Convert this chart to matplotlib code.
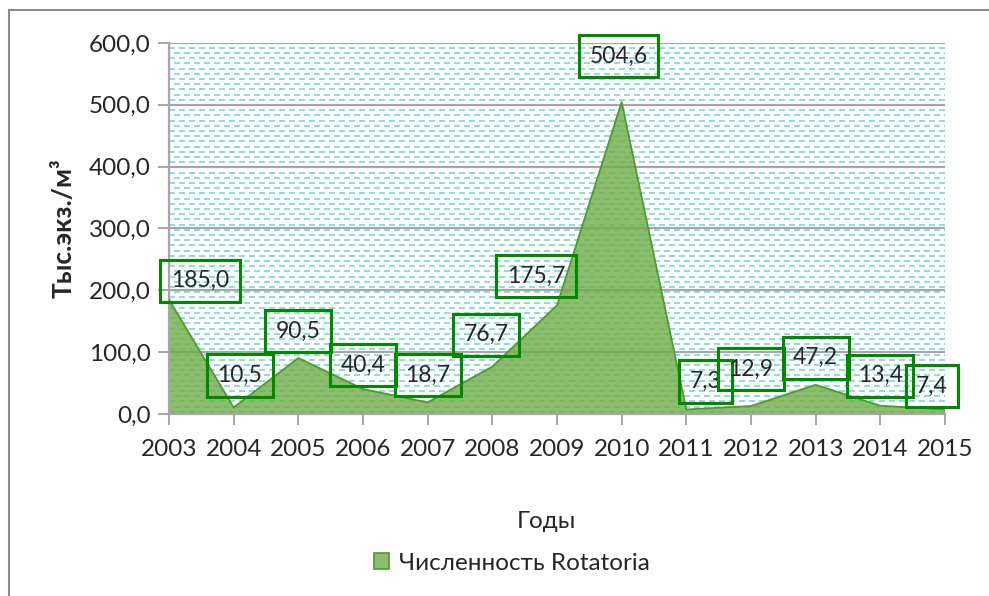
import numpy as np
import matplotlib
matplotlib.use("Agg")
import matplotlib.pyplot as plt
from matplotlib.patches import Rectangle, Patch
from matplotlib.ticker import FuncFormatter

plt.rcParams['font.family'] = ['Lato', 'Open Sans', 'DejaVu Sans']
plt.rcParams['lines.scale_dashes'] = False

years = [2003, 2004, 2005, 2006, 2007, 2008, 2009, 2010, 2011, 2012, 2013, 2014, 2015]
rotatoria = [185.0, 10.5, 90.5, 40.4, 18.7, 76.7, 175.7, 504.6, 7.3, 12.9, 47.2, 13.4, 7.4]

# pixel offsets of the value boxes from their points
label_dx = [31, 6, 0, 0, 0, -6, -21, -3, 19, 0, 0, 0, -13]
label_dy = [19, 32, 27, 24, 27, 32, 29, 46, 28, 37, 27, 30, 23]

text_col = '#262626'
grid_col = '#a6a6a6'

fig = plt.figure(figsize=(9.89, 5.96), dpi=100)
ax = fig.add_axes([169 / 989, 182 / 596, 776 / 989, 371 / 596])

# chart border
fig.patches.append(Rectangle((9 / 989, -0.05), 1.0, 1.05 - 10 / 596,
                             transform=fig.transFigure, fill=False,
                             edgecolor='#8c8c8c', lw=1.5))

# dashed background pattern of the plot area
rows = np.arange(0.006, 1.0, 5.2 / 371)
for i, yr in enumerate(rows):
    off = 0 if i % 2 == 0 else 5
    ax.plot([0, 1], [yr, yr], transform=ax.transAxes, color='#6fd3d3',
            lw=1.1, linestyle=(off * 0.72, (4.3, 2.9)), zorder=0.5)

ax.set_xlim(2003, 2015)
ax.set_ylim(0, 600)
ax.set_yticks(np.arange(0, 601, 100))
ax.set_xticks(years)
ax.yaxis.set_major_formatter(FuncFormatter(lambda v, p: f"{v:.1f}".replace('.', ',')))
ax.grid(axis='y', color=grid_col, lw=1.6, zorder=1)
ax.set_axisbelow(True)

ax.fill_between(years, rotatoria, 0, facecolor='#70ad47', alpha=0.8,
                edgecolor='none', zorder=2)
ax.plot(years, rotatoria, color='#4f9a2c', lw=1.3, zorder=3)

for x, v, dx, dy in zip(years, rotatoria, label_dx, label_dy):
    ax.annotate(f"{v:.1f}".replace('.', ','), (x, v), xytext=(dx, dy),
                textcoords='offset pixels', ha='center', va='center',
                fontsize=16.5, color=text_col, zorder=5,
                bbox=dict(boxstyle='square,pad=0.46', fc='none',
                          ec='#008a00', lw=2.2))

for s in ['top', 'right']:
    ax.spines[s].set_visible(False)
for s in ['left', 'bottom']:
    ax.spines[s].set_color(grid_col)
    ax.spines[s].set_linewidth(1.6)

ax.tick_params(axis='both', colors=grid_col, labelcolor=text_col,
               labelsize=17.5, length=8, width=1.4, direction='out')
ax.tick_params(axis='y', pad=5)
ax.tick_params(axis='x', pad=10)

ax.set_ylabel('Тыс.экз./м³', fontsize=19, fontweight='bold', color=text_col,
              labelpad=10)
fig.text(546 / 989, 1 - 522 / 596, 'Годы', ha='center', va='center',
         fontsize=17.5, color=text_col)

handle = Patch(facecolor='#8dbd6c', edgecolor='#4f9a2c', lw=1.2)
fig.legend([handle], ['Численность Rotatoria'], loc='center',
           bbox_to_anchor=(512 / 989, 1 - 563 / 596), frameon=False,
           fontsize=17.5, handlelength=0.6, handleheight=0.6,
           handletextpad=0.4, labelcolor=text_col)

fig.savefig('out.png', dpi=100)
